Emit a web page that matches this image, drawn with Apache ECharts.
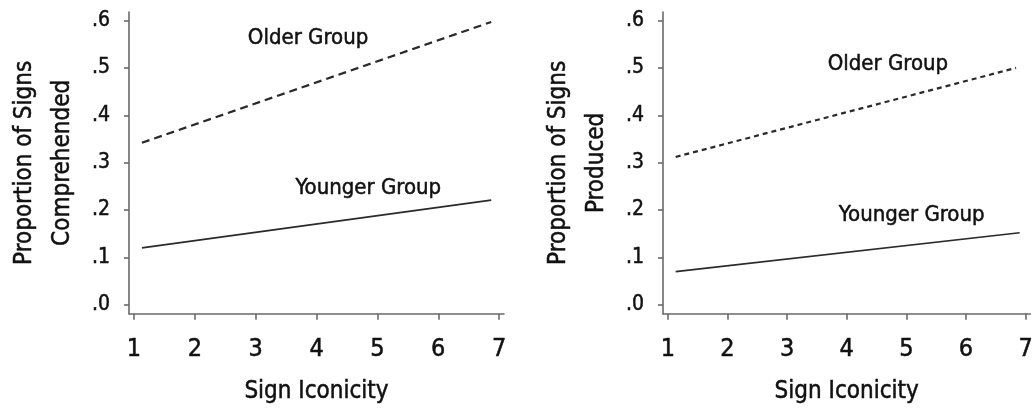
<!DOCTYPE html>
<html>
<head>
<meta charset="utf-8">
<script src="https://cdn.jsdelivr.net/npm/echarts@6.0.0/dist/echarts.min.js"></script>
<style>
html,body{margin:0;padding:0;background:#fff;}
#chart{width:1036px;height:409px;}
</style>
</head>
<body>
<div id="chart"></div>
<script>
// ---- data ----
const xTicks = [1, 2, 3, 4, 5, 6, 7];
const yTicks = [0, 0.1, 0.2, 0.3, 0.4, 0.5, 0.6];
const yTickLabels = ['.0', '.1', '.2', '.3', '.4', '.5', '.6'];

const comprehendedOlder = [[1.13, 0.342], [6.87, 0.597]];
const comprehendedYounger = [[1.13, 0.120], [6.87, 0.221]];
const producedOlder = [[1.13, 0.312], [6.84, 0.500]];
const producedYounger = [[1.13, 0.070], [6.90, 0.152]];

const comprehendedLabels = [
  { name: 'Older Group', value: [3.86, 0.563] },
  { name: 'Younger Group', value: [4.85, 0.245] }
];
const producedLabels = [
  { name: 'Older Group', value: [4.69, 0.508] },
  { name: 'Younger Group', value: [5.09, 0.188] }
];

const yTitles = ['Proportion of Signs\nComprehended', 'Proportion of Signs\nProduced'];
const xTitle = 'Sign Iconicity';

// ---- style ----
const FONT = '"DejaVu Sans Condensed", "Liberation Sans", sans-serif';
const TXT = '#111';
const AX = '#6a6a6a';
const LINE = '#2a2a2a';
const heavy = { textBorderColor: TXT, textBorderWidth: 0.5 };

function xAxisFor(idx) {
  return {
    type: 'value', gridIndex: idx, min: 0.918, max: 7.08,
    name: xTitle, nameLocation: 'middle', nameGap: 66,
    nameTextStyle: Object.assign({ fontFamily: FONT, fontSize: 24, color: TXT }, heavy),
    axisLine: { show: true, onZero: false, lineStyle: { color: AX, width: 1.6 } },
    axisTick: { show: true, length: 6, customValues: xTicks, lineStyle: { color: AX, width: 1.6 } },
    axisLabel: Object.assign({ customValues: xTicks, margin: 23, fontFamily: FONT, fontSize: 25, color: TXT }, heavy),
    splitLine: { show: false }
  };
}
function yAxisFor(idx) {
  return {
    type: 'value', gridIndex: idx, min: -0.019, max: 0.618,
    name: yTitles[idx], nameLocation: 'middle', nameGap: 47,
    nameTextStyle: Object.assign({ fontFamily: FONT, fontSize: 24, color: TXT, lineHeight: 38 }, heavy),
    axisLine: { show: true, onZero: false, lineStyle: { color: AX, width: 1.6 } },
    axisTick: { show: true, length: 5, customValues: yTicks, lineStyle: { color: AX, width: 1.6 } },
    axisLabel: Object.assign({
      customValues: yTicks, margin: 19, fontFamily: FONT, fontSize: 21, color: TXT,
      padding: [7, 0, 0, 0],
      formatter: v => yTickLabels[yTicks.findIndex(t => Math.abs(t - v) < 1e-6)]
    }, heavy),
    splitLine: { show: false }
  };
}
function lineSeries(idx, data, type, dash) {
  return {
    type: 'line', xAxisIndex: idx, yAxisIndex: idx, data: data,
    symbol: 'none', silent: true,
    lineStyle: { color: LINE, width: type === 'solid' ? 1.7 : 2.2, type: dash || 'solid' }
  };
}
function labelSeries(idx, data) {
  return {
    type: 'scatter', xAxisIndex: idx, yAxisIndex: idx, data: data,
    symbolSize: 0, silent: true,
    itemStyle: { opacity: 1 },
    label: Object.assign({ show: true, position: 'inside', formatter: p => p.name, opacity: 1,
      fontFamily: FONT, fontSize: 22, color: TXT }, heavy)
  };
}

const chart = echarts.init(document.getElementById('chart'), null, { renderer: 'canvas' });
chart.setOption({
  backgroundColor: '#fff',
  animation: false,
  grid: [
    { left: 129, top: 12, width: 375, height: 302 },
    { left: 663, top: 12, width: 375, height: 302 }
  ],
  xAxis: [xAxisFor(0), xAxisFor(1)],
  yAxis: [yAxisFor(0), yAxisFor(1)],
  series: [
    lineSeries(0, comprehendedOlder, 'dash', [8, 5]),
    lineSeries(0, comprehendedYounger, 'solid'),
    lineSeries(1, producedOlder, 'dash', [5, 4]),
    lineSeries(1, producedYounger, 'solid'),
    labelSeries(0, comprehendedLabels),
    labelSeries(1, producedLabels)
  ]
});
</script>
</body>
</html>
